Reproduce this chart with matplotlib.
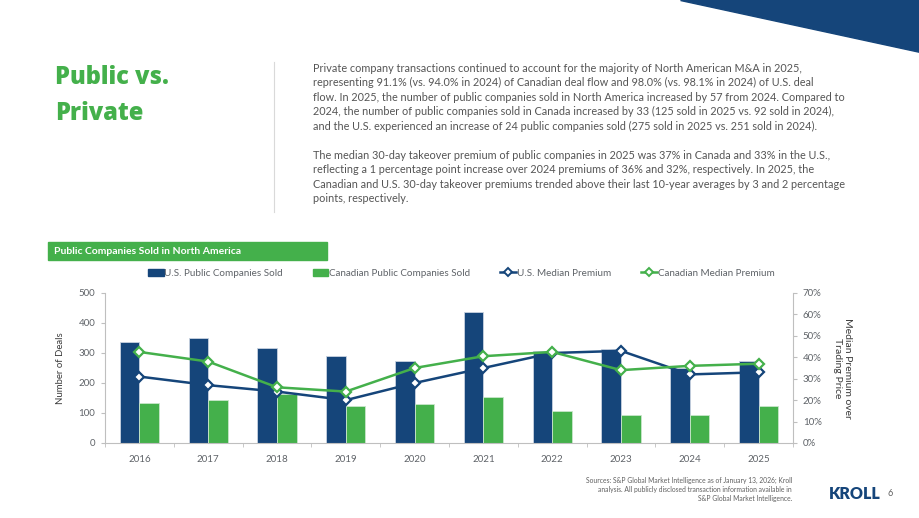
import numpy as np
import matplotlib.pyplot as plt
from matplotlib.patches import Polygon, Rectangle
from matplotlib.lines import Line2D

plt.rcParams['font.family'] = ['Lato', 'DejaVu Sans']

# data
years = ['2016', '2017', '2018', '2019', '2020', '2021', '2022', '2023', '2024', '2025']
us_sold = [338, 349, 316, 289, 273, 436, 307, 313, 251, 275]
ca_sold = [134, 142, 164, 123, 130, 154, 107, 93, 92, 125]
us_premium = [31, 27, 24, 20, 28, 35, 42, 43, 32, 33]
ca_premium = [42.5, 38, 26, 24, 35, 40.5, 42.5, 34, 36, 37]

para1 = ["Private company transactions continued to account for the majority of North American M&A in 2025,",
         "representing 91.1% (vs. 94.0% in 2024) of Canadian deal flow and 98.0% (vs. 98.1% in 2024) of U.S. deal",
         "flow. In 2025, the number of public companies sold in North America increased by 57 from 2024. Compared to",
         "2024, the number of public companies sold in Canada increased by 33 (125 sold in 2025 vs. 92 sold in 2024),",
         "and the U.S. experienced an increase of 24 public companies sold (275 sold in 2025 vs. 251 sold in 2024)."]
para2 = ["The median 30-day takeover premium of public companies in 2025 was 37% in Canada and 33% in the U.S.,",
         "reflecting a 1 percentage point increase over 2024 premiums of 36% and 32%, respectively. In 2025, the",
         "Canadian and U.S. 30-day takeover premiums trended above their last 10-year averages by 3 and 2 percentage",
         "points, respectively."]

navy = '#15457A'
green = '#44B04B'
grey_txt = '#5F6368'

W, H = 920, 518
fig = plt.figure(figsize=(9.2, 5.18), dpi=100)

def fx(px):
    return px / W

def fy(py):
    return 1 - py / H

# top right navy triangle
fig.patches.append(Polygon([[fx(680), fy(0)], [fx(920), fy(0)], [fx(920), fy(52)]],
                           closed=True, transform=fig.transFigure, color=navy, zorder=0))

# title
fig.text(fx(55), fy(77), 'Public vs.', color=green, fontsize=17, fontweight=800,
         family=['Open Sans', 'Lato'], va='center', ha='left')
fig.text(fx(55), fy(114), 'Private', color=green, fontsize=17, fontweight=800,
         family=['Open Sans', 'Lato'], va='center', ha='left')

# divider
fig.add_artist(Line2D([fx(274), fx(274)], [fy(62), fy(212)], transform=fig.transFigure,
                      color='#D9D9D9', lw=0.8))

# paragraphs
for i, line in enumerate(para1):
    fig.text(fx(313), fy(72 + i * 14.45), line, color='#555555', fontsize=7.8,
             va='baseline', ha='left')
for i, line in enumerate(para2):
    fig.text(fx(313), fy(159 + i * 14.45), line, color='#555555', fontsize=7.8,
             va='baseline', ha='left')

# green header box
fig.patches.append(Rectangle((fx(48), fy(260)), fx(327) - fx(48), fy(242) - fy(260),
                             transform=fig.transFigure, color=green, zorder=0))
fig.text(fx(54), fy(251), 'Public Companies Sold in North America', color='white',
         fontsize=7.5, fontweight='bold', va='center', ha='left')

# chart
ax = fig.add_axes([fx(105), fy(443), fx(793) - fx(105), fy(293) - fy(443)])
x = np.arange(len(years))
w = 0.285
ax.bar(x - w / 2, us_sold, w, color=navy, edgecolor='#C9D3E0', linewidth=0.6, zorder=2)
ax.bar(x + w / 2, ca_sold, w, color=green, edgecolor='#C9E6CB', linewidth=0.6, zorder=2)
ax.set_xlim(-0.5, len(years) - 0.5)
ax.set_ylim(0, 500)
ax.set_yticks(range(0, 501, 100))
ax.set_xticks(x)
ax.set_xticklabels(years)
ax.set_xticks(np.arange(-0.5, len(years), 1), minor=True)
ax.tick_params(axis='x', which='major', length=0, pad=9, labelsize=7, labelcolor=grey_txt)
ax.tick_params(axis='x', which='minor', length=3, color='#BFBFBF', direction='out')
ax.tick_params(axis='y', length=3, color='#BFBFBF', labelsize=7, labelcolor=grey_txt, pad=4)
for s in ['top', 'right']:
    ax.spines[s].set_visible(False)
for s in ['left', 'bottom']:
    ax.spines[s].set_color('#BFBFBF')
    ax.spines[s].set_linewidth(0.8)
ax.set_ylabel('Number of Deals', fontsize=6.9, color='#3A3A3A', labelpad=10)

ax2 = ax.twinx()
ax2.plot(x, us_premium, color=navy, lw=1.8, marker='D', markersize=5.5,
         markerfacecolor='white', markeredgecolor=navy, markeredgewidth=1.6, zorder=3)
ax2.plot(x, ca_premium, color=green, lw=1.8, marker='D', markersize=5.5,
         markerfacecolor='white', markeredgecolor=green, markeredgewidth=1.6, zorder=3)
ax2.set_ylim(0, 70)
ax2.set_yticks(range(0, 71, 10))
ax2.set_yticklabels([f'{v}%' for v in range(0, 71, 10)])
ax2.tick_params(axis='y', length=3, color='#BFBFBF', labelsize=7, labelcolor=grey_txt, pad=4)
for s in ['top', 'left', 'bottom']:
    ax2.spines[s].set_visible(False)
ax2.spines['right'].set_color('#BFBFBF')
ax2.spines['right'].set_linewidth(0.8)
ax2.set_ylabel('Median Premium over\nTrading Price', fontsize=7.5, color='#3A3A3A',
               rotation=270, labelpad=22)

handles = [Rectangle((0, 0), 1, 1, color=navy),
           Rectangle((0, 0), 1, 1, color=green),
           Line2D([], [], color=navy, lw=1.8, marker='D', markersize=4.5,
                  markerfacecolor='white', markeredgecolor=navy, markeredgewidth=1.4),
           Line2D([], [], color=green, lw=1.8, marker='D', markersize=4.5,
                  markerfacecolor='white', markeredgecolor=green, markeredgewidth=1.4)]
labels = ['U.S. Public Companies Sold', 'Canadian Public Companies Sold',
          'U.S. Median Premium', 'Canadian Median Premium']
fig.legend(handles, labels, loc='center', bbox_to_anchor=(fx(461), fy(273)), ncol=4,
           frameon=False, fontsize=7.1, labelcolor=grey_txt, handlelength=1.6,
           handleheight=0.7, handletextpad=0.1, columnspacing=3.0)

# footer
fig.text(fx(792), fy(477), 'Sources: S&P Global Market Intelligence as of January 13, 2026; Kroll\n'
         'analysis. All publicly disclosed transaction information available in\n'
         'S&P Global Market Intelligence.', color='#606060', fontsize=4.85, ha='right', va='top',
         linespacing=1.3)
fig.text(fx(829), fy(494), 'KROLL', color=navy, fontsize=11.5, fontweight='heavy', ha='left', va='center')
fig.text(fx(888), fy(494), '6', color='#606060', fontsize=6.5, ha='left', va='center')

fig.savefig('out.png', dpi=100)
